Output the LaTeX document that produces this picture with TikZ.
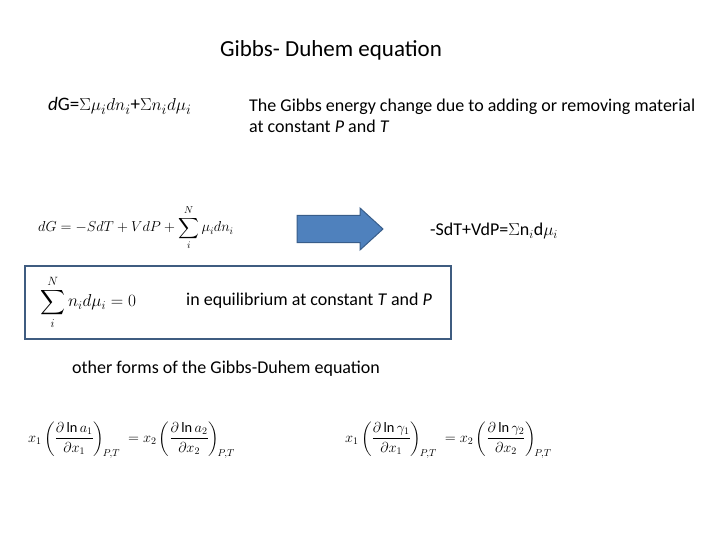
\documentclass[tikz,border=0pt]{standalone}
\usepackage{amsmath}
\usepackage{fontspec}
\setmainfont{Carlito}
\definecolor{arrowblue}{HTML}{4F81BD}
\definecolor{arrowedge}{HTML}{385D8A}
\definecolor{boxedge}{HTML}{3F5C80}
\tikzset{
  plain/.style={inner sep=0pt,anchor=west},
  eqn/.style={inner sep=0pt,anchor=west,font=\Large},
}
\begin{document}
\begin{tikzpicture}[x=1pt,y=-1pt]
        \useasboundingbox (0,0) rectangle (720,540);
		\node[inner sep=0pt,font=\fontsize{23}{26}\selectfont] (title) at (331,50) {Gibbs- Duhem equation};

		% top line
		\node[plain,font=\fontsize{19}{22}\selectfont] (dGsum) at (48,106) {\textit{d}G=$\Sigma\mu_i dn_i$+$\Sigma n_i d\mu_i$};
		\node[plain,font=\fontsize{18}{21}\selectfont,align=left] (meaning) at (249,116) {The Gibbs energy change due to adding or removing material\\at constant \textit{P} and \textit{T}};

		% differential and arrow
		\node[eqn] (dG) at (38,228) {$dG=-SdT+VdP+\displaystyle\sum_{i}^{N}\mu_i dn_i$};
		\coordinate (tail) at (297,229);
		\coordinate (tip) at (383,229);
		\draw[arrowedge,fill=arrowblue,line width=1pt]
		  (tail) ++(0,-13.5) -- ++(63,0) -- ++(0,-7.5) -- (tip) -- ++(-23,21) -- ++(0,-7.5) -- ++(-63,0) -- cycle;
		\node[plain,font=\fontsize{18}{21}\selectfont] (gd) at (430,231) {-SdT+VdP=$\Sigma$n$_i$d$\mu_i$};

		% equilibrium box
		\draw[boxedge,line width=2pt] (25,266) rectangle (451,339);
		\node[eqn,font=\LARGE] (sumzero) at (40,302) {$\displaystyle\sum_{i}^{N}n_i d\mu_i=0$};
		\node[plain,font=\fontsize{18}{21}\selectfont] (equil) at (186,301) {in equilibrium at constant \textit{T} and \textit{P}};

		% other forms
		\node[plain,font=\fontsize{18}{21}\selectfont] (other) at (72,369) {other forms of the Gibbs-Duhem equation};
		\node[eqn] (acts) at (28,440) {$x_1\left(\dfrac{\partial\ln a_1}{\partial x_1}\right)_{\!P,T}\;=x_2\left(\dfrac{\partial\ln a_2}{\partial x_2}\right)_{\!P,T}$};
		\node[eqn] (coefs) at (345,440) {$x_1\left(\dfrac{\partial\ln \gamma_1}{\partial x_1}\right)_{\!P,T}\;=x_2\left(\dfrac{\partial\ln \gamma_2}{\partial x_2}\right)_{\!P,T}$};
\end{tikzpicture}
\end{document}
